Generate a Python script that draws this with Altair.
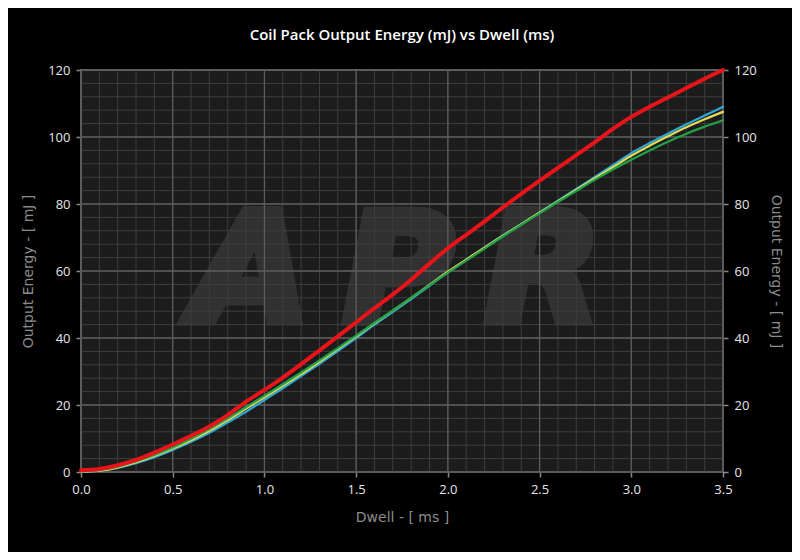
import altair as alt
import pandas as pd

# ---- data ----
dwell = [0.0, 0.1, 0.2, 0.3, 0.4, 0.5, 0.6, 0.7, 0.8, 0.9,
         1.0, 1.1, 1.2, 1.3, 1.4, 1.5, 1.6, 1.7, 1.8, 1.9,
         2.0, 2.1, 2.2, 2.3, 2.4, 2.5, 2.6, 2.7, 2.8, 2.9,
         3.0, 3.1, 3.2, 3.3, 3.4, 3.5]

red = [0.5, 0.9, 2.0, 3.6, 5.8, 8.2, 10.8, 13.6, 17.0, 21.0,
       24.5, 28.2, 32.2, 36.3, 40.5, 44.7, 48.9, 53.0, 57.4, 62.2,
       66.8, 70.8, 74.8, 79.0, 83.0, 87.0, 90.8, 94.6, 98.4, 102.4,
       106.0, 109.0, 111.8, 114.6, 117.4, 120.0]

blue = [0.0, 0.3, 1.2, 2.6, 4.4, 6.6, 9.0, 11.7, 14.8, 18.0,
        21.5, 25.0, 28.6, 32.3, 36.1, 40.0, 44.0, 47.8, 51.6, 55.6,
        59.6, 63.3, 67.0, 70.6, 74.0, 77.5, 81.0, 84.5, 88.0, 91.6,
        95.2, 98.2, 101.0, 103.8, 106.4, 109.0]

yellow = [0.1, 0.4, 1.4, 2.9, 4.8, 7.0, 9.5, 12.3, 15.5, 18.9,
          22.3, 25.7, 29.2, 32.9, 36.7, 40.5, 44.4, 48.2, 52.0, 55.9,
          59.8, 63.4, 67.0, 70.5, 74.0, 77.4, 80.8, 84.2, 87.6, 91.0,
          94.4, 97.4, 100.2, 102.9, 105.3, 107.5]

green = [0.2, 0.6, 1.6, 3.2, 5.1, 7.3, 9.9, 12.8, 16.0, 19.4,
         22.8, 26.2, 29.7, 33.3, 37.0, 40.7, 44.5, 48.2, 52.0, 55.8,
         59.5, 63.1, 66.7, 70.3, 73.8, 77.2, 80.6, 83.9, 87.2, 90.3,
         93.2, 96.0, 98.6, 101.0, 103.1, 105.0]

series_names = ["Blue", "Yellow", "Green", "Red"]
series_values = [blue, yellow, green, red]
series_colors = ["#2ea8d8", "#e4d858", "#22a247", "#e8141a"]
series_widths = [2.2, 2.2, 2.2, 4.0]

x_ticks = [0.0, 0.5, 1.0, 1.5, 2.0, 2.5, 3.0, 3.5]
y_ticks = [0, 20, 40, 60, 80, 100, 120]
x_minor = [round(0.1 * i, 1) for i in range(36)]
y_minor = list(range(0, 121, 4))

watermark_letters = ["A", "P", "R"]
watermark_x = [0.93, 1.73, 2.52]
watermark_y = [45, 45, 45]

# ---- build ----
xs = alt.Scale(domain=[0, 3.5], nice=False, zero=False)
ys = alt.Scale(domain=[0, 120], nice=False, zero=False)

wm = alt.Chart(pd.DataFrame({"t": watermark_letters, "x": watermark_x, "y": watermark_y})).mark_text(
    font="DejaVu Sans", fontSize=152, fontWeight="bold", fontStyle="italic",
    color="#313131", stroke="#313131", strokeWidth=9, strokeJoin="miter",
    baseline="alphabetic", align="center"
).encode(
    x=alt.X("x:Q", scale=xs, axis=None),
    y=alt.Y("y:Q", scale=ys, axis=None),
    text="t:N",
)

minor_x = alt.Chart(pd.DataFrame({"v": x_minor})).mark_rule(color="#3e3e3e", strokeWidth=1).encode(
    x=alt.X("v:Q", scale=xs, axis=None))
minor_y = alt.Chart(pd.DataFrame({"v": y_minor})).mark_rule(color="#3e3e3e", strokeWidth=1).encode(
    y=alt.Y("v:Q", scale=ys, axis=None))
major_x = alt.Chart(pd.DataFrame({"v": x_ticks})).mark_rule(color="#5c5c5c", strokeWidth=1.3).encode(
    x=alt.X("v:Q", scale=xs, axis=None))
major_y = alt.Chart(pd.DataFrame({"v": y_ticks})).mark_rule(color="#5c5c5c", strokeWidth=1.3).encode(
    y=alt.Y("v:Q", scale=ys, axis=None))

line_layers = []
for i, (name, vals, col, w) in enumerate(zip(series_names, series_values, series_colors, series_widths)):
    df = pd.DataFrame({"dwell": dwell, "energy": vals})
    if i == 0:
        enc = dict(
            x=alt.X("dwell:Q", scale=xs, axis=alt.Axis(
                values=x_ticks, format=".1f", title="Dwell - [ ms ]", grid=False, orient="bottom",
                labelFlush=False, titlePadding=14)),
            y=alt.Y("energy:Q", scale=ys, axis=alt.Axis(
                values=y_ticks, title="Output Energy - [ mJ ]", grid=False, orient="left")),
        )
    else:
        enc = dict(x=alt.X("dwell:Q", scale=xs, axis=None), y=alt.Y("energy:Q", scale=ys, axis=None))
    line_layers.append(
        alt.Chart(df).mark_line(color=col, strokeWidth=w, interpolate="monotone", strokeCap="round").encode(**enc)
    )

right_axis = alt.Chart(pd.DataFrame({"dwell": dwell, "energy": red})).mark_line(opacity=0).encode(
    x=alt.X("dwell:Q", scale=xs, axis=None),
    y=alt.Y("energy:Q", scale=ys, axis=alt.Axis(
        values=y_ticks, title="Output Energy - [ mJ ]", grid=False, orient="right")),
)

chart = alt.layer(wm, minor_x, minor_y, major_x, major_y, *line_layers, right_axis).resolve_axis(
    x="independent", y="independent"
).properties(
    width=642, height=402,
    autosize=alt.AutoSizeParams(type="none"),
    padding={"left": 73, "top": 62, "right": 69, "bottom": 80},
    background="#000000",
    title=alt.TitleParams("Coil Pack Output Energy (mJ) vs Dwell (ms)", color="#ffffff",
                          font="Open Sans", fontSize=15, fontWeight=600, offset=19, anchor="middle"),
).configure_view(
    fill="#1c1c1c", stroke="#7a7a7a", strokeWidth=2
).configure_axis(
    domain=False,
    tickColor="#8a8a8a", tickSize=5, tickWidth=1.5,
    labelColor="#e6e6e6", labelFont="Open Sans", labelFontSize=13, labelPadding=6,
    titleColor="#8c8c8c", titleFont="DejaVu Sans", titleFontSize=14, titleFontWeight="normal",
    titlePadding=12,
)

chart.save("out.html", embed_options={"renderer": "svg", "actions": False})
